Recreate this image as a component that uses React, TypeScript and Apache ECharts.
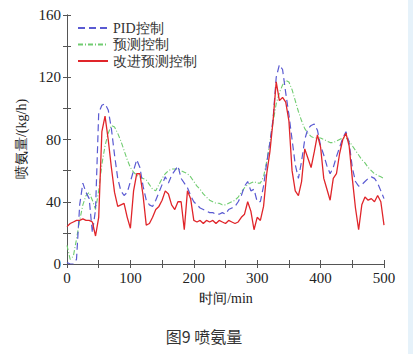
import React, { useEffect, useRef } from "react";
import * as echarts from "echarts";

// time step of the sampled curves (min)
const STEP = 5;

const pidValues = [
  1, 0, 0, 3, 38, 52, 46, 42, 20, 35,
  97, 102, 103, 99, 87, 70, 55, 47, 44, 46,
  53, 60, 67, 62, 50, 41, 38, 37, 41, 46,
  51, 56, 52, 57, 60, 63, 55, 52, 49, 44,
  40, 38, 36, 35, 34, 33, 33, 32, 32, 33,
  32, 35, 36, 37, 40, 44, 50, 53, 47, 48,
  40, 40, 50, 65, 78, 93, 120, 128, 125, 110,
  96, 80, 64, 55, 66, 80, 87, 89, 90, 86,
  76, 70, 63, 58, 62, 69, 75, 81, 85, 78,
  62, 53, 50, 51, 53, 55, 56, 55, 52, 47,
  42,
];

const predValues = [
  12, 3, 5, 16, 28, 38, 44, 46, 41, 35,
  47, 64, 76, 84, 89, 88, 84, 79, 73, 67,
  62, 59, 57, 56, 55, 54, 51, 48, 47, 51,
  55, 58, 60, 61, 61, 61, 60, 59, 58, 56,
  53, 50, 48, 45, 43, 41, 40, 39, 39, 38,
  38, 39, 40, 41, 43, 46, 49, 51, 52, 53,
  52, 52, 56, 66, 78, 91, 103, 110, 115, 118,
  117, 112, 105, 98, 92, 87, 84, 82, 81, 81,
  81, 80, 79, 78, 78, 79, 80, 81, 81, 79,
  76, 73, 70, 67, 65, 62, 60, 58, 57, 56,
  55,
];

const improvedValues = [
  24, 26, 27, 28, 28, 29, 28, 28, 27, 18,
  30, 85, 95, 80, 62, 46, 37, 38, 39, 30,
  23, 47, 58, 58, 44, 25, 26, 30, 35, 37,
  41, 47, 45, 38, 35, 40, 40, 22, 47, 42,
  28, 27, 28, 26, 28, 27, 28, 26, 28, 27,
  26, 28, 27, 26, 27, 30, 32, 40, 34, 22,
  30, 28, 37, 58, 72, 92, 117, 105, 107, 104,
  92, 60, 47, 44, 53, 74, 68, 62, 72, 83,
  75, 55, 48, 41, 55, 58, 71, 80, 84, 76,
  55, 36, 22, 38, 43, 41, 42, 40, 44, 40,
  25,
];

const seriesNames = ["PID控制", "预测控制", "改进预测控制"];
const xTicks = [0, 100, 200, 300, 400, 500];
const yTicks = [0, 40, 80, 120, 160];

const toPairs = (vals: number[]) => vals.map((v, i) => [i * STEP, v]);

const SERIF = "Liberation Serif";

export default function App() {
  const ref = useRef<HTMLDivElement>(null);

  useEffect(() => {
    if (!ref.current) return;
    const chart = echarts.init(ref.current, undefined, { renderer: "svg" });
    const axisLineStyle = { color: "#555", width: 1 };
    const option: any = {
      animation: false,
      backgroundColor: "#ffffff",
      grid: { left: 67, top: 15, width: 317, height: 249 },
      legend: {
        orient: "vertical",
        left: 72,
        top: 16,
        itemWidth: 30,
        itemHeight: 12,
        itemGap: 2.5,
        itemStyle: { opacity: 0 },
        data: seriesNames,
        textStyle: { fontFamily: SERIF, fontSize: 14, color: "#333" },
        selectedMode: false,
      },
      xAxis: [
        {
          type: "value",
          position: "bottom",
          min: 0,
          max: 500,
          interval: 50,
          axisLine: { show: true, lineStyle: axisLineStyle },
          axisTick: { show: true, inside: true, length: 4, lineStyle: axisLineStyle },
          splitLine: { show: false },
          axisLabel: {
            margin: 6,
            fontFamily: SERIF,
            fontSize: 15,
            color: "#222",
            formatter: (v: number) => (xTicks.includes(v) ? String(v) : ""),
          },
        },
        {
          type: "value",
          position: "top",
          min: 0,
          max: 500,
          interval: 50,
          axisLine: { show: true, lineStyle: axisLineStyle },
          axisTick: { show: true, inside: true, length: 4, lineStyle: axisLineStyle },
          splitLine: { show: false },
          axisLabel: { show: false },
        },
      ],
      yAxis: [
        {
          type: "value",
          position: "left",
          min: 0,
          max: 160,
          interval: 20,
          axisLine: { show: true, lineStyle: axisLineStyle },
          axisTick: { show: true, inside: true, length: 4, lineStyle: axisLineStyle },
          splitLine: { show: false },
          axisLabel: {
            margin: 6,
            fontFamily: SERIF,
            fontSize: 15,
            color: "#222",
            formatter: (v: number) => (yTicks.includes(v) ? String(v) : ""),
          },
        },
        {
          type: "value",
          position: "right",
          min: 0,
          max: 160,
          interval: 20,
          axisLine: { show: true, lineStyle: axisLineStyle },
          axisTick: { show: true, inside: true, length: 4, lineStyle: axisLineStyle },
          splitLine: { show: false },
          axisLabel: { show: false },
        },
      ],
      series: [
        {
          name: seriesNames[0],
          type: "line",
          data: toPairs(pidValues),
          showSymbol: false,
          lineStyle: { color: "#5a5ad2", width: 1.2, type: [7, 4] },
          itemStyle: { color: "#5a5ad2" },
          z: 2,
        },
        {
          name: seriesNames[1],
          type: "line",
          data: toPairs(predValues),
          showSymbol: false,
          lineStyle: { color: "#70cc70", width: 1.1, type: [5, 2, 1, 2] },
          itemStyle: { color: "#70cc70" },
          z: 1,
        },
        {
          name: seriesNames[2],
          type: "line",
          data: toPairs(improvedValues),
          showSymbol: false,
          lineStyle: { color: "#e0252a", width: 1.3, type: "solid" },
          itemStyle: { color: "#e0252a" },
          z: 3,
        },
      ],
      graphic: [
        {
          type: "text",
          x: 21,
          y: 139,
          rotation: Math.PI / 2,
          style: {
            text: "喷氨量/(kg/h)",
            fontFamily: SERIF,
            fontSize: 14,
            fill: "#222",
            textAlign: "center",
            textVerticalAlign: "middle",
          },
        },
        {
          type: "text",
          x: 226,
          y: 298,
          style: {
            text: "时间/min",
            fontFamily: SERIF,
            fontSize: 14,
            fill: "#222",
            textAlign: "center",
            textVerticalAlign: "middle",
          },
        },
        {
          type: "text",
          x: 204,
          y: 336,
          style: {
            text: "图9 喷氨量",
            fontFamily: "Noto Sans CJK SC",
            fontSize: 16,
            fill: "#333",
            textAlign: "center",
            textVerticalAlign: "middle",
          },
        },
        {
          type: "rect",
          shape: { x: 408, y: 0, width: 5, height: 354 },
          style: { fill: "#e6f2fa" },
          silent: true,
        },
      ],
    };
    chart.setOption(option);
    return () => chart.dispose();
  }, []);

  return (
    <div
      ref={ref}
      style={{ position: "absolute", left: 0, top: 0, width: 413, height: 354 }}
    />
  );
}
